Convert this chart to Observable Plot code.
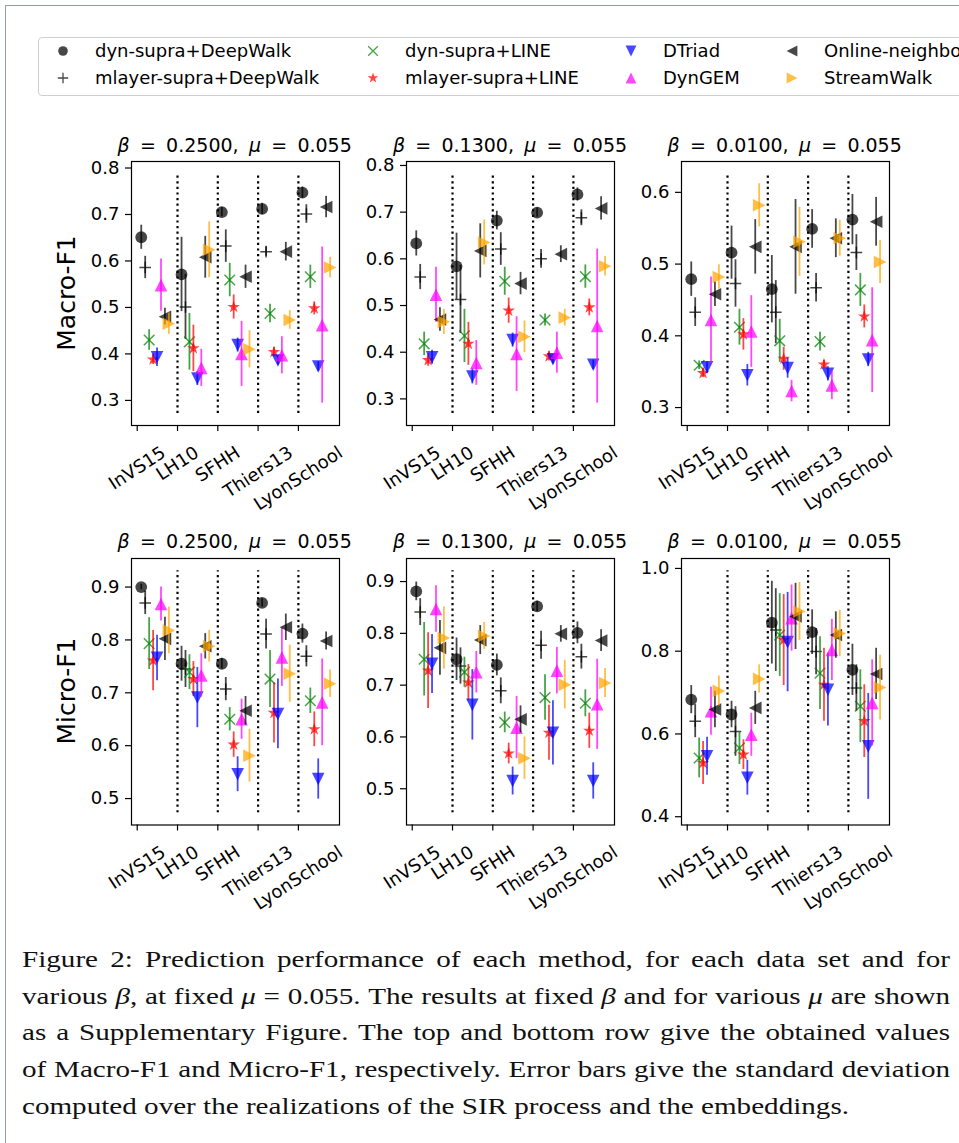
<!DOCTYPE html>
<html><head><meta charset="utf-8">
<script src="https://cdn.jsdelivr.net/npm/d3@7"></script>
<script src="https://cdn.jsdelivr.net/npm/@observablehq/plot@0.6"></script>
<style>
html,body{margin:0;padding:0;background:#fff;}
body{width:959px;height:1143px;overflow:hidden;position:relative;font-family:"DejaVu Sans",sans-serif;color:#000;}
.title{position:absolute;width:300px;text-align:center;font-size:19px;line-height:18px;white-space:nowrap;}
.ylab{position:absolute;font-size:25px;line-height:25px;white-space:nowrap;transform:translate(-50%,-50%) rotate(-90deg);}
.leg{position:absolute;left:38px;top:37px;width:960px;height:57px;border:1px solid #cfcfcf;border-radius:4px;}
.legitem{position:absolute;font-size:18px;line-height:18px;white-space:nowrap;}
.cap{position:absolute;left:22px;top:942px;width:928px;font-family:"Liberation Serif",serif;font-size:22.5px;color:#111;transform-origin:0 0;}
.cap div{height:36.7px;line-height:36.7px;text-align:justify;text-align-last:justify;white-space:nowrap;}
.cap div.last{text-align-last:left;}
.border{position:absolute;left:5px;top:5px;width:1000px;height:1200px;border-left:1px solid #8e9db3;border-top:1px solid #8e9db3;}
</style></head><body>
<div class="border"></div>
<script>
// ---------- data ----------
const datasets = ["InVS15", "LH10", "SFHH", "Thiers13", "LyonSchool"];
const methods = ["dyn-supra+DeepWalk", "mlayer-supra+DeepWalk", "dyn-supra+LINE", "mlayer-supra+LINE", "DTriad", "DynGEM", "Online-neighbor", "StreamWalk"];
const betas = ["0.2500", "0.1300", "0.0100"];
const mu = "0.055";
const rowLabels = ["Macro-F1", "Micro-F1"];

// rows: datasets, columns: methods (in the order above)
const macroB0250 = [
  [0.651, 0.586, 0.430, 0.388, 0.393, 0.548, 0.480, 0.465],
  [0.571, 0.501, 0.426, 0.412, 0.347, 0.370, 0.608, 0.624],
  [0.705, 0.632, 0.559, 0.501, 0.419, 0.400, 0.566, 0.410],
  [0.712, 0.620, 0.487, 0.404, 0.386, 0.397, 0.620, 0.473],
  [0.747, 0.701, 0.566, 0.498, 0.373, 0.462, 0.716, 0.586]];
const macroB0250Err = [
  [0.026, 0.024, 0.022, 0.011, 0.020, 0.056, 0.018, 0.023],
  [0.080, 0.070, 0.061, 0.050, 0.015, 0.040, 0.045, 0.060],
  [0.010, 0.035, 0.036, 0.026, 0.015, 0.070, 0.025, 0.040],
  [0.012, 0.010, 0.020, 0.010, 0.010, 0.040, 0.020, 0.020],
  [0.012, 0.020, 0.025, 0.014, 0.010, 0.168, 0.023, 0.022]];
const macroB0130 = [
  [0.633, 0.561, 0.418, 0.383, 0.389, 0.523, 0.470, 0.465],
  [0.584, 0.513, 0.435, 0.418, 0.348, 0.377, 0.617, 0.635],
  [0.682, 0.621, 0.552, 0.489, 0.426, 0.396, 0.547, 0.433],
  [0.699, 0.600, 0.469, 0.391, 0.385, 0.399, 0.610, 0.474],
  [0.738, 0.688, 0.562, 0.496, 0.373, 0.456, 0.708, 0.584]];
const macroB0130Err = [
  [0.027, 0.027, 0.025, 0.013, 0.015, 0.059, 0.025, 0.027],
  [0.071, 0.073, 0.057, 0.046, 0.016, 0.048, 0.058, 0.048],
  [0.020, 0.035, 0.030, 0.027, 0.015, 0.080, 0.024, 0.034],
  [0.010, 0.020, 0.013, 0.010, 0.010, 0.044, 0.018, 0.018],
  [0.014, 0.017, 0.025, 0.018, 0.010, 0.165, 0.025, 0.021]];
const macroB0010 = [
  [0.479, 0.433, 0.359, 0.348, 0.356, 0.422, 0.458, 0.482],
  [0.516, 0.473, 0.412, 0.402, 0.345, 0.406, 0.524, 0.582],
  [0.465, 0.433, 0.393, 0.368, 0.355, 0.323, 0.524, 0.531],
  [0.549, 0.467, 0.392, 0.360, 0.347, 0.331, 0.536, 0.536],
  [0.562, 0.516, 0.464, 0.427, 0.367, 0.394, 0.559, 0.503]];
const macroB0010Err = [
  [0.024, 0.020, 0.006, 0.006, 0.008, 0.060, 0.017, 0.017],
  [0.037, 0.033, 0.025, 0.022, 0.015, 0.050, 0.038, 0.030],
  [0.047, 0.044, 0.030, 0.016, 0.014, 0.015, 0.066, 0.048],
  [0.027, 0.020, 0.013, 0.006, 0.010, 0.020, 0.027, 0.025],
  [0.035, 0.025, 0.023, 0.016, 0.010, 0.073, 0.034, 0.030]];
const microB0250 = [
  [0.900, 0.870, 0.793, 0.761, 0.766, 0.868, 0.802, 0.818],
  [0.755, 0.745, 0.739, 0.726, 0.691, 0.733, 0.788, 0.788],
  [0.755, 0.707, 0.650, 0.602, 0.546, 0.650, 0.666, 0.581],
  [0.870, 0.811, 0.726, 0.662, 0.660, 0.767, 0.824, 0.736],
  [0.812, 0.769, 0.685, 0.631, 0.537, 0.682, 0.798, 0.717]];
const microB0250Err = [
  [0.005, 0.022, 0.049, 0.057, 0.043, 0.032, 0.041, 0.044],
  [0.033, 0.035, 0.033, 0.033, 0.057, 0.041, 0.024, 0.030],
  [0.010, 0.022, 0.022, 0.024, 0.033, 0.038, 0.027, 0.050],
  [0.008, 0.028, 0.054, 0.057, 0.066, 0.055, 0.025, 0.054],
  [0.018, 0.020, 0.024, 0.033, 0.038, 0.082, 0.017, 0.026]];
const microB0130 = [
  [0.881, 0.841, 0.750, 0.728, 0.741, 0.847, 0.772, 0.791],
  [0.750, 0.737, 0.725, 0.705, 0.662, 0.725, 0.787, 0.795],
  [0.739, 0.689, 0.628, 0.568, 0.515, 0.618, 0.634, 0.559],
  [0.852, 0.777, 0.676, 0.608, 0.608, 0.728, 0.799, 0.701],
  [0.801, 0.755, 0.665, 0.612, 0.515, 0.663, 0.786, 0.704]];
const microB0130Err = [
  [0.018, 0.026, 0.071, 0.073, 0.057, 0.045, 0.053, 0.060],
  [0.041, 0.035, 0.029, 0.035, 0.068, 0.040, 0.028, 0.026],
  [0.021, 0.025, 0.020, 0.020, 0.027, 0.060, 0.026, 0.041],
  [0.010, 0.027, 0.044, 0.053, 0.062, 0.045, 0.016, 0.047],
  [0.021, 0.024, 0.026, 0.034, 0.035, 0.087, 0.021, 0.028]];
const microB0010 = [
  [0.683, 0.631, 0.542, 0.530, 0.546, 0.655, 0.659, 0.704],
  [0.647, 0.606, 0.566, 0.550, 0.494, 0.598, 0.663, 0.733],
  [0.869, 0.851, 0.839, 0.827, 0.822, 0.880, 0.884, 0.896],
  [0.846, 0.799, 0.747, 0.719, 0.707, 0.803, 0.839, 0.843],
  [0.755, 0.711, 0.667, 0.631, 0.570, 0.675, 0.745, 0.712]];
const microB0010Err = [
  [0.034, 0.040, 0.048, 0.052, 0.046, 0.058, 0.044, 0.036],
  [0.032, 0.060, 0.040, 0.036, 0.042, 0.052, 0.040, 0.034],
  [0.100, 0.100, 0.100, 0.110, 0.120, 0.080, 0.080, 0.070],
  [0.054, 0.056, 0.088, 0.088, 0.088, 0.074, 0.056, 0.056],
  [0.062, 0.056, 0.088, 0.088, 0.128, 0.104, 0.062, 0.078]];

const captionLines = [
  "Figure 2: Prediction performance of each method, for each data set and for",
  "various <i>β</i>, at fixed <i>μ</i> = 0.055. The results at fixed <i>β</i> and for various <i>μ</i> are shown",
  "as a Supplementary Figure. The top and bottom row give the obtained values",
  "of Macro-F1 and Micro-F1, respectively. Error bars give the standard deviation",
  "computed over the realizations of the SIR process and the embeddings."];

// ---------- styles ----------
const rad = s => Math.sqrt(s / Math.PI);
const symPlus = {draw(c, s) { const r = rad(s); c.moveTo(-r, 0); c.lineTo(r, 0); c.moveTo(0, -r); c.lineTo(0, r); }};
const symCross = {draw(c, s) { const r = rad(s); c.moveTo(-r, -r); c.lineTo(r, r); c.moveTo(-r, r); c.lineTo(r, -r); }};
const symStar = {draw(c, s) { const R = rad(s), ri = R * 0.381966;
  for (let j = 0; j < 10; j++) { const a = -Math.PI / 2 + j * Math.PI / 5, rr = j % 2 ? ri : R;
    if (j) c.lineTo(rr * Math.cos(a), rr * Math.sin(a)); else c.moveTo(rr * Math.cos(a), rr * Math.sin(a)); }
  c.closePath(); }};
const symCircle = {draw(c, s) { const r = rad(s); c.moveTo(r, 0); c.arc(0, 0, r, 0, 2 * Math.PI); c.closePath(); }};
const symDown = {draw(c, s) { const r = rad(s); c.moveTo(0, r); c.lineTo(-r, -r); c.lineTo(r, -r); c.closePath(); }};
const symUp = {draw(c, s) { const r = rad(s); c.moveTo(0, -r); c.lineTo(-r, r); c.lineTo(r, r); c.closePath(); }};
const symLeft = {draw(c, s) { const r = rad(s); c.moveTo(-r, 0); c.lineTo(r, -r); c.lineTo(r, r); c.closePath(); }};
const symRight = {draw(c, s) { const r = rad(s); c.moveTo(r, 0); c.lineTo(-r, -r); c.lineTo(-r, r); c.closePath(); }};
const mSym = [symCircle, symPlus, symCross, symStar, symDown, symUp, symLeft, symRight];
const mColor = ["#000000", "#000000", "#008000", "#ff0000", "#0000ff", "#ff00ff", "#000000", "#ffa500"];
const mFilled = [true, false, false, true, true, true, true, true];
const mRadius = [5.9, 5.8, 5.3, 6.6, 6.3, 6.3, 6.3, 6.3];
const mLegRadius = [4.8, 5.2, 4.8, 5.6, 5.4, 5.4, 5.4, 5.4];
const ALPHA = 0.72;

// ---------- panels ----------
const colL = [130.7, 406, 680.7];
const rowT = [161, 557.5];
const rowB = [425, 824];
const PW = 208;
const mgL = 60, mgR = 15, mgT = 10, mgB = 110;
const ROT = 33, SIN = Math.sin(ROT * Math.PI / 180), COS = Math.cos(ROT * Math.PI / 180);

const panels = [
  {row: 0, col: 0, v: macroB0250, e: macroB0250Err, dom: [0.246, 0.814], ticks: [0.3, 0.4, 0.5, 0.6, 0.7, 0.8]},
  {row: 0, col: 1, v: macroB0130, e: macroB0130Err, dom: [0.243, 0.8085], ticks: [0.3, 0.4, 0.5, 0.6, 0.7, 0.8]},
  {row: 0, col: 2, v: macroB0010, e: macroB0010Err, dom: [0.275, 0.643], ticks: [0.3, 0.4, 0.5, 0.6]},
  {row: 1, col: 0, v: microB0250, e: microB0250Err, dom: [0.450, 0.954], ticks: [0.5, 0.6, 0.7, 0.8, 0.9]},
  {row: 1, col: 1, v: microB0130, e: microB0130Err, dom: [0.430, 0.9445], ticks: [0.5, 0.6, 0.7, 0.8, 0.9]},
  {row: 1, col: 2, v: microB0010, e: microB0010Err, dom: [0.380, 1.024], ticks: [0.4, 0.6, 0.8, 1.0]}];

const ctx = document.createElement("canvas").getContext("2d");
ctx.font = "18px 'DejaVu Sans'";

for (const p of panels) {
  const rows = [];
  datasets.forEach((ds, i) => methods.forEach((m, k) => {
    const y = p.v[i][k], err = p.e[i][k];
    rows.push({ds, m, k, x: i + 0.1 + 0.098 * k, y, lo: y - err, hi: y + err});
  }));
  const [lo, hi] = p.dom, ins = (hi - lo) * 0.0455;
  const marks = [
    Plot.ruleX([1, 2, 3, 4], {y1: lo + ins, y2: hi - ins, stroke: "#000", strokeWidth: 2.2, strokeDasharray: "2.2,3.4"})
  ];
  methods.forEach((m, k) => {
    const d = rows.filter(r => r.k === k);
    marks.push(Plot.ruleX(d, {x: "x", y1: "lo", y2: "hi", stroke: mColor[k], strokeOpacity: ALPHA, strokeWidth: 1.8}));
    marks.push(Plot.dot(d, mFilled[k]
      ? {x: "x", y: "y", symbol: mSym[k], r: mRadius[k], fill: mColor[k], fillOpacity: ALPHA, stroke: "none"}
      : {x: "x", y: "y", symbol: mSym[k], r: mRadius[k], fill: "none", stroke: mColor[k], strokeOpacity: ALPHA, strokeWidth: 1.5}));
  });
  marks.push(Plot.frame({stroke: "#000", strokeWidth: 1.2}));
  marks.push(Plot.axisY({ticks: p.ticks, tickFormat: d3.format(".1f"), tickSize: 6, tickPadding: 6, fontSize: 18, strokeWidth: 1.2, label: null}));
  marks.push(Plot.axisX({ticks: [0, 1, 2, 3, 4], tickFormat: () => "", tickSize: 6, strokeWidth: 1.2, label: null}));
  datasets.forEach((ds, i) => {
    const w = ctx.measureText(ds).width;
    const dy = 20 + (SIN * w + COS * 13) / 2;
    marks.push(Plot.text([{name: ds, i}], {x: "i", text: "name", frameAnchor: "bottom", rotate: -ROT, textAnchor: "middle", lineAnchor: "middle", dy, fontSize: 18}));
  });
  const H = rowB[p.row] - rowT[p.row];
  const svg = Plot.plot({
    width: PW + mgL + mgR, height: H + mgT + mgB,
    marginLeft: mgL, marginRight: mgR, marginTop: mgT, marginBottom: mgB,
    x: {domain: [-0.142, 5.02], label: null},
    y: {domain: p.dom, label: null},
    style: {fontFamily: "DejaVu Sans", fontSize: "18px", color: "#000", background: "transparent", overflow: "visible"},
    marks
  });
  svg.style.position = "absolute";
  svg.style.left = (colL[p.col] - mgL) + "px";
  svg.style.top = (rowT[p.row] - mgT) + "px";
  document.body.appendChild(svg);

  const t = document.createElement("div");
  t.className = "title";
  const sp = document.createElement("span");
  sp.innerHTML = `<i>β</i> = ${betas[p.col]}, <i>μ</i> = ${mu}`;
  t.appendChild(sp);
  t.style.left = (colL[p.col] + PW / 2 - 150) + "px";
  t.style.top = (rowT[p.row] - 10 - 15.5) + "px";
  document.body.appendChild(t);
  const wT = sp.getBoundingClientRect().width;
  t.style.wordSpacing = Math.max(0, (230 - wT) / 4) + "px";
}

rowLabels.forEach((lab, r) => {
  const d = document.createElement("div");
  d.className = "ylab";
  d.textContent = lab;
  d.style.left = "66px";
  d.style.top = ((rowT[r] + rowB[r]) / 2) + "px";
  document.body.appendChild(d);
});

// ---------- legend ----------
const leg = document.createElement("div");
leg.className = "leg";
document.body.appendChild(leg);
const legTextX = [56, 366, 624, 785];
const legRowY = [13, 40];
methods.forEach((m, k) => {
  const col = Math.floor(k / 2), row = k % 2;
  const p = d3.path();
  mSym[k].draw(p, Math.PI * mLegRadius[k] ** 2);
  const svgNS = "http://www.w3.org/2000/svg";
  const s = document.createElementNS(svgNS, "svg");
  s.setAttribute("width", 20); s.setAttribute("height", 20);
  s.style.position = "absolute";
  s.style.left = (legTextX[col] - 32 - 10) + "px";
  s.style.top = (legRowY[row] - 10) + "px";
  const path = document.createElementNS(svgNS, "path");
  path.setAttribute("d", p.toString());
  path.setAttribute("transform", "translate(10,10)");
  if (mFilled[k]) { path.setAttribute("fill", mColor[k]); path.setAttribute("fill-opacity", ALPHA); }
  else { path.setAttribute("fill", "none"); path.setAttribute("stroke", mColor[k]); path.setAttribute("stroke-opacity", ALPHA); path.setAttribute("stroke-width", 1.3); }
  s.appendChild(path);
  leg.appendChild(s);
  const tx = document.createElement("div");
  tx.className = "legitem";
  tx.textContent = m;
  tx.style.left = legTextX[col] + "px";
  tx.style.top = (legRowY[row] - 9) + "px";
  leg.appendChild(tx);
});

// ---------- caption ----------
const cap = document.createElement("div");
cap.className = "cap";
captionLines.forEach((ln, i) => {
  const d = document.createElement("div");
  if (i === captionLines.length - 1) d.className = "last";
  d.innerHTML = ln;
  cap.appendChild(d);
});
document.body.appendChild(cap);
const lastDiv = cap.lastChild;
const span = document.createElement("span");
span.innerHTML = captionLines[captionLines.length - 1];
lastDiv.innerHTML = ""; lastDiv.appendChild(span);
const wNat = span.getBoundingClientRect().width;
const sc = 827 / wNat;
cap.style.width = (928 / sc) + "px";
cap.style.transform = `scaleX(${sc})`;
</script>
</body></html>
